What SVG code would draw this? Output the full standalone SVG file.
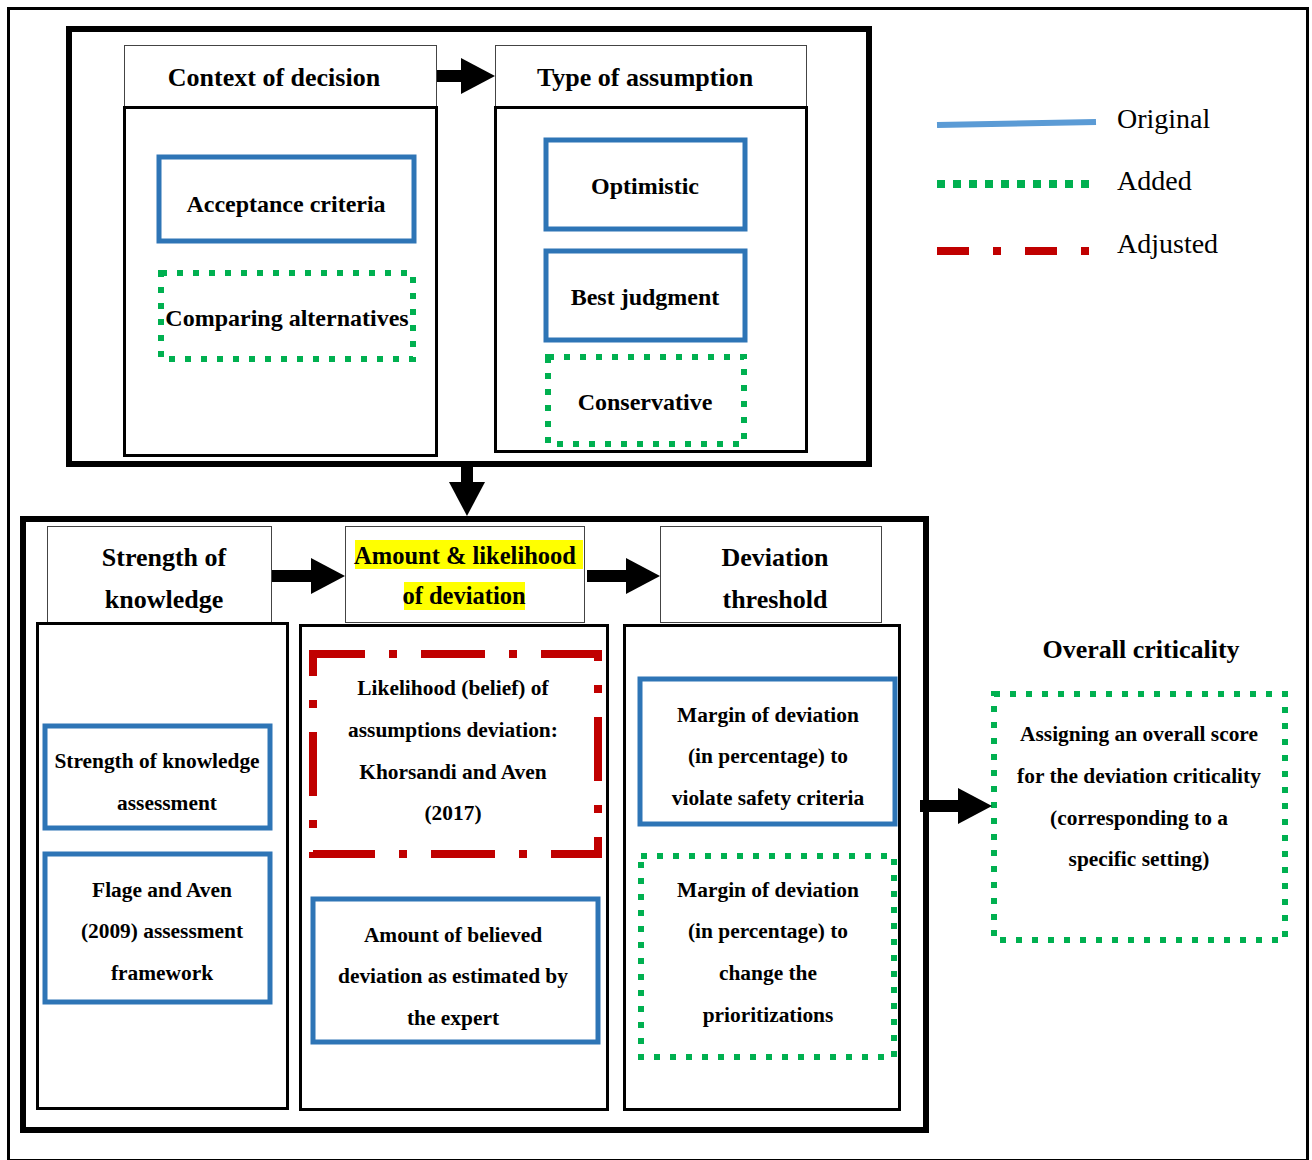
<svg xmlns="http://www.w3.org/2000/svg" width="1312" height="1160" viewBox="0 0 1312 1160">
<style>
text{font-family:"Liberation Serif","Times New Roman",serif;fill:#000;text-anchor:middle}
.h{font-size:26px;font-weight:bold}
.ha{font-size:24.5px;font-weight:bold}
.t{font-size:24px;font-weight:bold}
.s{font-size:21.4px;font-weight:bold}
.lg{font-size:28px;text-anchor:start}
.frame{fill:none;stroke:#000;stroke-width:6}
.hdr{fill:#fff;stroke:#444;stroke-width:1}
.col{fill:none;stroke:#000;stroke-width:3}
.orig{fill:none;stroke:#2e75b6;stroke-width:5}
.add{fill:none;stroke:#00b050;stroke-width:6;stroke-dasharray:6 10}
.adj{fill:none;stroke:#c00000;stroke-width:8;stroke-dasharray:64 24 8 24}
.conn{stroke:#000;stroke-width:12;marker-end:url(#ah)}
</style>
<defs>
<marker id="ah" markerUnits="userSpaceOnUse" markerWidth="34" markerHeight="36" refX="0" refY="18" orient="auto" overflow="visible">
<path d="M0,0 L34,18 L0,36 z" fill="#000"/>
</marker>
</defs>
<rect x="0" y="0" width="1312" height="1160" fill="#fff"/>
<rect x="8.5" y="8.5" width="1299" height="1152" fill="none" stroke="#000" stroke-width="3"/>

<g id="top-group">
<rect class="frame" x="69" y="29" width="800" height="435"/>
</g>
<g id="context-of-decision">
<rect class="hdr" x="124.5" y="45.5" width="312" height="61"/>
<text class="h" x="274" y="86">Context of decision</text>
<rect class="col" x="124.5" y="107.5" width="312" height="348"/>
</g>
<g id="acceptance-criteria">
<rect class="orig" x="159" y="157" width="255" height="84"/>
<text class="t" x="286" y="212">Acceptance criteria</text>
</g>
<g id="comparing-alternatives">
<rect class="add" x="161" y="273" width="252" height="86"/>
<text class="t" x="287" y="326">Comparing alternatives</text>
</g>
<g id="type-of-assumption">
<rect class="hdr" x="495.5" y="45.5" width="311" height="61"/>
<text class="h" x="645" y="86">Type of assumption</text>
<rect class="col" x="495.5" y="107.5" width="311" height="344"/>
</g>
<g id="optimistic">
<rect class="orig" x="546" y="140" width="199" height="89"/>
<text class="t" x="645" y="194">Optimistic</text>
</g>
<g id="best-judgment">
<rect class="orig" x="546" y="251" width="199" height="89"/>
<text class="t" x="645" y="305">Best judgment</text>
</g>
<g id="conservative">
<rect class="add" x="548" y="357" width="196" height="87"/>
<text class="t" x="645" y="410">Conservative</text>
</g>

<g id="legend">
<line x1="937" y1="125" x2="1096" y2="122" stroke="#5b9bd5" stroke-width="6"/>
<text class="lg" x="1117" y="128">Original</text>
<line x1="937" y1="184" x2="1092" y2="184" stroke="#00b050" stroke-width="8" stroke-dasharray="8 8"/>
<text class="lg" x="1117" y="190">Added</text>
<line x1="937" y1="251" x2="1092" y2="251" stroke="#c00000" stroke-width="8" stroke-dasharray="32 24 8 24"/>
<text class="lg" x="1117" y="253">Adjusted</text>
</g>

<g id="bottom-group">
<rect class="frame" x="23" y="519" width="903" height="611"/>
</g>
<g id="strength-of-knowledge">
<rect class="hdr" x="47.5" y="526.5" width="224" height="96"/>
<text class="h" x="164" y="566">Strength of</text>
<text class="h" x="164" y="608">knowledge</text>
<rect class="col" x="37.5" y="623.5" width="250" height="485"/>
</g>
<g id="sok-assessment">
<rect class="orig" x="45" y="726" width="225" height="102"/>
<text class="s" x="157" y="768">Strength of knowledge</text>
<text class="s" x="167" y="810">assessment</text>
</g>
<g id="flage-aven">
<rect class="orig" x="45" y="854" width="225" height="148"/>
<text class="s" x="162" y="897">Flage and Aven</text>
<text class="s" x="162" y="938">(2009) assessment</text>
<text class="s" x="162" y="980">framework</text>
</g>
<g id="amount-likelihood">
<rect class="hdr" x="345.5" y="526.5" width="239" height="96"/>
<rect x="355" y="540" width="228" height="29" fill="#ffff00"/>
<rect x="404" y="582" width="121" height="28" fill="#ffff00"/>
<text class="ha" x="465" y="564">Amount &amp; likelihood</text>
<text class="ha" x="464" y="604">of deviation</text>
<rect class="col" x="300.5" y="625.5" width="307" height="484"/>
</g>
<g id="likelihood-belief">
<rect class="adj" x="313" y="654" width="285" height="200" stroke-dashoffset="12"/>
<text class="s" x="453" y="695">Likelihood (belief) of</text>
<text class="s" x="453" y="737">assumptions deviation:</text>
<text class="s" x="453" y="779">Khorsandi and Aven</text>
<text class="s" x="453" y="820">(2017)</text>
</g>
<g id="amount-believed">
<rect class="orig" x="313" y="899" width="285" height="143"/>
<text class="s" x="453" y="942">Amount of believed</text>
<text class="s" x="453" y="983">deviation as estimated by</text>
<text class="s" x="453" y="1025">the expert</text>
</g>
<g id="deviation-threshold">
<rect class="hdr" x="660.5" y="526.5" width="221" height="96"/>
<text class="h" x="775" y="566">Deviation</text>
<text class="h" x="775" y="608">threshold</text>
<rect class="col" x="624.5" y="625.5" width="275" height="484"/>
</g>
<g id="margin-safety">
<rect class="orig" x="640" y="679" width="255" height="145"/>
<text class="s" x="768" y="722">Margin of deviation</text>
<text class="s" x="768" y="763">(in percentage) to</text>
<text class="s" x="768" y="805">violate safety criteria</text>
</g>
<g id="margin-prioritization">
<rect class="add" x="641" y="856" width="253" height="201"/>
<text class="s" x="768" y="897">Margin of deviation</text>
<text class="s" x="768" y="938">(in percentage) to</text>
<text class="s" x="768" y="980">change the</text>
<text class="s" x="768" y="1022">prioritizations</text>
</g>
<g id="overall-criticality">
<text class="h" x="1141" y="658">Overall criticality</text>
<rect class="add" x="994" y="694" width="291" height="246"/>
<text class="s" x="1139" y="741">Assigning an overall score</text>
<text class="s" x="1139" y="783">for the deviation criticality</text>
<text class="s" x="1139" y="825">(corresponding to a</text>
<text class="s" x="1139" y="866">specific setting)</text>
</g>

<g id="connectors">
<line class="conn" x1="437" y1="76" x2="461" y2="76"/>
<line class="conn" x1="467" y1="466" x2="467" y2="482"/>
<line class="conn" x1="272" y1="576" x2="311" y2="576"/>
<line class="conn" x1="587" y1="576" x2="626" y2="576"/>
<line class="conn" x1="920" y1="806" x2="958" y2="806"/>
</g>
</svg>
